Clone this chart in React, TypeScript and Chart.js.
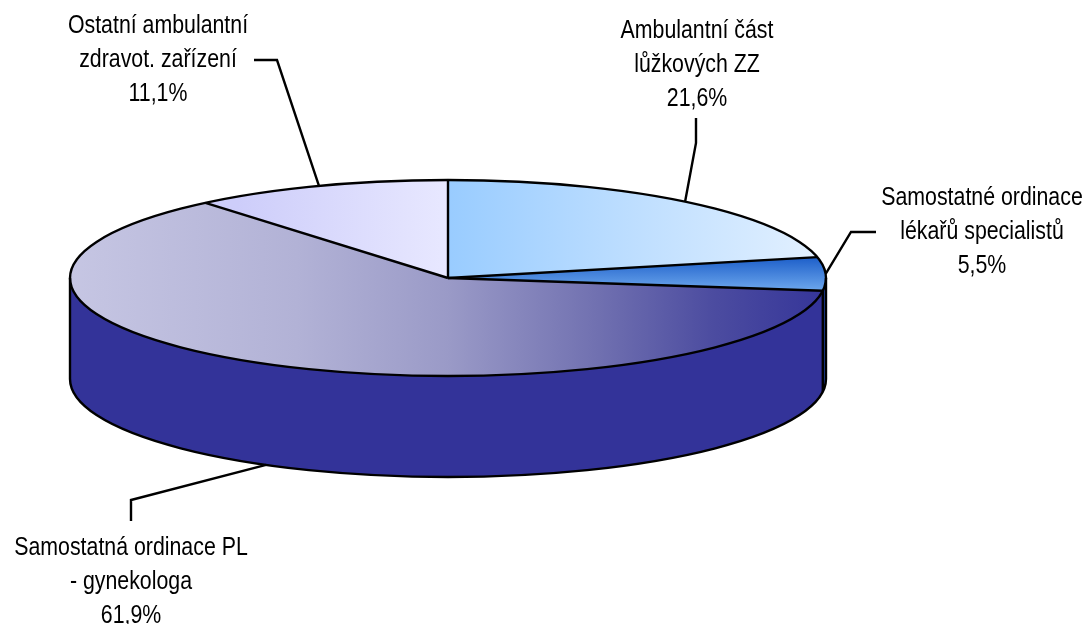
import { useEffect, useRef } from "react";
import { Chart, registerables } from "chart.js";

Chart.register(...registerables);

// ---- data ----
const categories: string[][] = [
  ["Ambulantní část", "lůžkových ZZ"],
  ["Samostatné ordinace", "lékařů specialistů"],
  ["Samostatná ordinace PL", "- gynekologa"],
  ["Ostatní ambulantní", "zdravot. zařízení"],
];
const shares: number[] = [21.6, 5.5, 61.9, 11.1];
const percentLabels: string[] = shares.map((v) => v.toFixed(1).replace(".", ",") + "%");

// ---- layout / style ----
const W = 1089;
const H = 624;
const CX = 448;
const CY = 278;
const RX = 378;
const RY = 98;
const DEPTH = 101;
const FONT = '26px "Liberation Sans", Arial, sans-serif';
const NARROW = 0.82;
const LINE_H = 34;
const LW = 2.4;
const sideColors = ["#6fa8e8", "#1f3f99", "#333399", "#c8c8f8"];

type Layout = { x: number; y: number; path: number[][]; bottom: boolean };
const labelLayout: Layout[] = [
  { x: 697, y: 38, path: [[696, 118], [696, 143]], bottom: false },
  { x: 982, y: 205, path: [[876, 232], [851, 232]], bottom: false },
  { x: 131, y: 555, path: [[131, 521], [131, 500]], bottom: true },
  { x: 158, y: 33, path: [[254, 60], [277, 60]], bottom: false },
];

function libGeom(area: any) {
  const ex = (area.left + area.right) / 2;
  const ey = (area.top + area.bottom) / 2;
  const r = Math.min(area.right - area.left, area.bottom - area.top) / 2;
  return {
    x: (X: number) => ex + ((X - CX) * r) / RX,
    y: (Y: number) => ey + ((Y - CY) * r) / RY,
  };
}

function makeFill(ctx: CanvasRenderingContext2D, area: any, i: number) {
  const g = libGeom(area);
  let grad: CanvasGradient;
  if (i === 0) {
    grad = ctx.createLinearGradient(g.x(448), 0, g.x(826), 0);
    grad.addColorStop(0, "#99ccff");
    grad.addColorStop(1, "#e4f1ff");
  } else if (i === 1) {
    grad = ctx.createLinearGradient(0, g.y(256), 0, g.y(292));
    grad.addColorStop(0, "#1a5cc8");
    grad.addColorStop(1, "#70aaee");
  } else if (i === 2) {
    grad = ctx.createLinearGradient(g.x(70), 0, g.x(826), 0);
    grad.addColorStop(0, "#c6c6e3");
    grad.addColorStop(0.3, "#b2b2d6");
    grad.addColorStop(0.5, "#9a9ac7");
    grad.addColorStop(0.7, "#7070b0");
    grad.addColorStop(0.85, "#4c4ca0");
    grad.addColorStop(1, "#353599");
  } else {
    grad = ctx.createLinearGradient(g.x(237), 0, g.x(448), 0);
    grad.addColorStop(0, "#cdcdfa");
    grad.addColorStop(1, "#e8e8ff");
  }
  return grad;
}

const pie3d = {
  id: "pie3d",
  beforeDatasetsDraw(chart: any) {
    const ctx: CanvasRenderingContext2D = chart.ctx;
    const arcs = chart.getDatasetMeta(0).data;
    if (!arcs.length) return;
    // side wall (front half only)
    arcs.forEach((el: any, i: number) => {
      const a0 = Math.max(el.startAngle, 0);
      const a1 = Math.min(el.endAngle, Math.PI);
      if (a1 <= a0) return;
      ctx.save();
      ctx.beginPath();
      ctx.ellipse(CX, CY, RX, RY, 0, a0, a1, false);
      ctx.ellipse(CX, CY + DEPTH, RX, RY, 0, a1, a0, true);
      ctx.closePath();
      ctx.fillStyle = sideColors[i];
      ctx.fill();
      ctx.restore();
    });
    // project the library's circle onto the ellipse
    const e0 = arcs[0];
    const r = e0.outerRadius;
    ctx.save();
    ctx.translate(CX, CY);
    ctx.scale(RX / r, RY / r);
    ctx.translate(-e0.x, -e0.y);
  },
  afterDatasetsDraw(chart: any) {
    const ctx: CanvasRenderingContext2D = chart.ctx;
    const arcs = chart.getDatasetMeta(0).data;
    if (!arcs.length) return;
    ctx.restore();
    ctx.save();
    ctx.strokeStyle = "#000";
    ctx.lineWidth = LW;
    ctx.lineJoin = "round";
    // side outline
    ctx.beginPath();
    ctx.ellipse(CX, CY + DEPTH, RX, RY, 0, 0, Math.PI, false);
    ctx.stroke();
    const vline = (a: number) => {
      const x = CX + RX * Math.cos(a);
      const y = CY + RY * Math.sin(a);
      ctx.beginPath();
      ctx.moveTo(x, y);
      ctx.lineTo(x, y + DEPTH);
      ctx.stroke();
    };
    vline(0);
    vline(Math.PI);
    arcs.forEach((el: any) => {
      if (el.startAngle > 0 && el.startAngle < Math.PI) vline(el.startAngle);
    });
    // top outline
    ctx.beginPath();
    ctx.ellipse(CX, CY, RX, RY, 0, 0, Math.PI * 2);
    ctx.stroke();
    arcs.forEach((el: any) => {
      ctx.beginPath();
      ctx.moveTo(CX, CY);
      ctx.lineTo(CX + RX * Math.cos(el.startAngle), CY + RY * Math.sin(el.startAngle));
      ctx.stroke();
    });
    ctx.restore();
  },
  afterDraw(chart: any) {
    const ctx: CanvasRenderingContext2D = chart.ctx;
    const arcs = chart.getDatasetMeta(0).data;
    ctx.save();
    ctx.strokeStyle = "#000";
    ctx.lineWidth = LW;
    ctx.lineJoin = "miter";
    arcs.forEach((el: any, i: number) => {
      const L = labelLayout[i];
      const a = (el.startAngle + el.endAngle) / 2;
      const ax = CX + RX * Math.cos(a);
      const ay = CY + RY * Math.sin(a) + (L.bottom ? DEPTH : 0);
      ctx.beginPath();
      ctx.moveTo(L.path[0][0], L.path[0][1]);
      for (let k = 1; k < L.path.length; k++) ctx.lineTo(L.path[k][0], L.path[k][1]);
      ctx.lineTo(ax, ay);
      ctx.stroke();
      ctx.fillStyle = "#000";
      ctx.font = FONT;
      ctx.textAlign = "center";
      ctx.textBaseline = "alphabetic";
      const lines = [...categories[i], percentLabels[i]];
      lines.forEach((t, k) => {
        ctx.save();
        ctx.translate(L.x, L.y + k * LINE_H);
        ctx.scale(NARROW, 1);
        ctx.fillText(t, 0, 0);
        ctx.restore();
      });
    });
    ctx.restore();
  },
};

export default function App() {
  const ref = useRef<HTMLCanvasElement | null>(null);
  useEffect(() => {
    document.body.style.margin = "0";
    const canvas = ref.current!;
    const chart = new Chart(canvas, {
      type: "pie",
      data: {
        labels: categories.map((c) => c.join(" ")),
        datasets: [
          {
            data: shares,
            backgroundColor: (c: any) => {
              const ch = c.chart;
              if (!ch.chartArea) return "#cccccc";
              return makeFill(ch.ctx, ch.chartArea, c.dataIndex);
            },
            borderWidth: 0,
            hoverOffset: 0,
            offset: 0,
            clip: false as any,
          } as any,
        ],
      },
      options: {
        responsive: false,
        animation: false,
        events: [],
        layout: { padding: 0 },
        plugins: {
          legend: { display: false },
          tooltip: { enabled: false },
          title: { display: false },
        },
      },
      plugins: [pie3d],
    });
    return () => chart.destroy();
  }, []);
  return (
    <div style={{ position: "absolute", left: 0, top: 0, width: W, height: H, background: "#fff" }}>
      <canvas ref={ref} width={W} height={H} style={{ width: W, height: H, display: "block" }} />
    </div>
  );
}
